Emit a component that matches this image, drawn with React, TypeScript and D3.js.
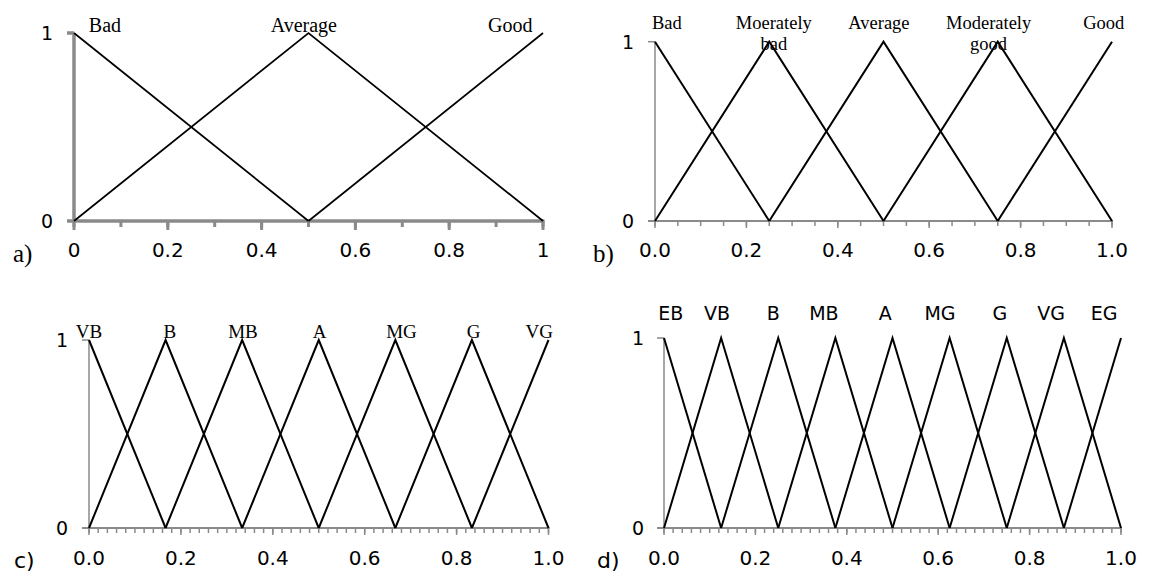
import React from 'react';
import * as d3 from 'd3';

// membership sets for each panel (peak of each triangle)
const aLabels = ['Bad', 'Average', 'Good'];
const aPeaks = [0, 0.5, 1];
const aLabelX = [0.066, 0.49, 0.93];
const aTickLabels = ['0', '0.2', '0.4', '0.6', '0.8', '1'];

const bLabels = ['Bad', 'Moerately\nbad', 'Average', 'Moderately\ngood', 'Good'];
const bPeaks = [0, 0.25, 0.5, 0.75, 1];
const bLabelX = [0.026, 0.26, 0.49, 0.73, 0.982];
const bTickLabels = ['0.0', '0.2', '0.4', '0.6', '0.8', '1.0'];

const cLabels = ['VB', 'B', 'MB', 'A', 'MG', 'G', 'VG'];
const cPeaks = [0, 0.1667, 0.3333, 0.5, 0.6667, 0.8333, 1];
const cLabelX = [0, 0.176, 0.335, 0.502, 0.68, 0.837, 0.98];
const cTickLabels = ['0.0', '0.2', '0.4', '0.6', '0.8', '1.0'];

const dLabels = ['EB', 'VB', 'B', 'MB', 'A', 'MG', 'G', 'VG', 'EG'];
const dPeaks = [0, 0.125, 0.25, 0.375, 0.5, 0.625, 0.75, 0.875, 1];
const dLabelX = [0.015, 0.116, 0.239, 0.35, 0.484, 0.604, 0.735, 0.847, 0.963];
const dTickLabels = ['0.0', '0.2', '0.4', '0.6', '0.8', '1.0'];

const SERIF = '"Liberation Serif", "Times New Roman", serif';
const SANS = '"DejaVu Sans", Verdana, sans-serif';
const GRAY = '#8a8a8a';

interface PanelCfg {
  tag: string;
  tagFont: string;
  tagX: number;
  tagY: number;
  x0: number; x1: number; yTop: number; yBot: number;
  labels: string[]; peaks: number[]; labelX: number[]; tickLabels: string[];
  labelFont: string; labelSize: number; labelY: number;
  minorCount: number;
  heavy: boolean;
  yLabelX: number;
  tickY: number;
  lineW: number;
}

const panels: PanelCfg[] = [
  {
    tag: 'a)', tagFont: SERIF, tagX: 13, tagY: 262,
    x0: 74, x1: 543, yTop: 33, yBot: 221,
    labels: aLabels, peaks: aPeaks, labelX: aLabelX, tickLabels: aTickLabels,
    labelFont: SERIF, labelSize: 20, labelY: 32,
    minorCount: 10, heavy: true, yLabelX: 47, tickY: 257, lineW: 1.7,
  },
  {
    tag: 'b)', tagFont: SERIF, tagX: 593, tagY: 262,
    x0: 655, x1: 1112, yTop: 41.7, yBot: 221,
    labels: bLabels, peaks: bPeaks, labelX: bLabelX, tickLabels: bTickLabels,
    labelFont: SERIF, labelSize: 18.5, labelY: 29,
    minorCount: 20, heavy: false, yLabelX: 628, tickY: 257, lineW: 2,
  },
  {
    tag: 'c)', tagFont: SANS, tagX: 14, tagY: 568,
    x0: 89, x1: 548.5, yTop: 340, yBot: 528,
    labels: cLabels, peaks: cPeaks, labelX: cLabelX, tickLabels: cTickLabels,
    labelFont: SERIF, labelSize: 19, labelY: 338,
    minorCount: 40, heavy: false, yLabelX: 62, tickY: 565, lineW: 2,
  },
  {
    tag: 'd)', tagFont: SANS, tagX: 597, tagY: 568,
    x0: 664, x1: 1121, yTop: 338, yBot: 528,
    labels: dLabels, peaks: dPeaks, labelX: dLabelX, tickLabels: dTickLabels,
    labelFont: SANS, labelSize: 19, labelY: 320,
    minorCount: 40, heavy: false, yLabelX: 638, tickY: 565, lineW: 2,
  },
];

const Panel: React.FC<{ p: PanelCfg }> = ({ p }) => {
  const x = d3.scaleLinear().domain([0, 1]).range([p.x0, p.x1]);
  const y = d3.scaleLinear().domain([0, 1]).range([p.yBot, p.yTop]);
  const half = p.peaks[1] - p.peaks[0];
  const line = d3.line<[number, number]>().x(d => x(d[0])).y(d => y(d[1]));

  // triangles, clipped to the [0, 1] universe
  const tris = p.peaks.map(pk =>
    ([[pk - half, 0], [pk, 1], [pk + half, 0]] as [number, number][])
      .filter(d => d[0] >= -1e-6 && d[0] <= 1 + 1e-6)
  );

  const axisW = p.heavy ? 3.5 : 2;
  const yAxisW = p.heavy ? 3.5 : 1.5;
  const minor = x.ticks(p.minorCount);
  const major = x.ticks(5);

  return (
    <g>
      {/* y axis */}
      <line x1={x(0)} x2={x(0)} y1={y(1)} y2={y(0)} stroke={GRAY} strokeWidth={yAxisW} />
      {[0, 1].map(v => (
        <line key={'yt' + v} x1={x(0) - 7} x2={x(0)} y1={y(v)} y2={y(v)} stroke={GRAY} strokeWidth={v === 0 ? axisW : yAxisW} />
      ))}
      {/* x axis */}
      <line x1={x(0)} x2={x(1) + (p.heavy ? 1.5 : 1)} y1={y(0)} y2={y(0)} stroke={GRAY} strokeWidth={axisW} />
      {minor.map((t, i) => (
        <line key={'mt' + i} x1={x(t)} x2={x(t)} y1={y(0)} y2={y(0) + (p.heavy ? 6 : 5)}
          stroke={GRAY} strokeWidth={p.heavy ? 3 : 1.5} />
      ))}
      {major.map((t, i) => (
        <line key={'Mt' + i} x1={x(t)} x2={x(t)} y1={y(0)} y2={y(0) + (p.heavy ? 9 : 7)}
          stroke={GRAY} strokeWidth={p.heavy ? 3 : 1.5} />
      ))}

      {/* membership functions */}
      {tris.map((t, i) => (
        <path key={'s' + i} d={line(t) || ''} fill="none" stroke="#000" strokeWidth={p.lineW} strokeLinejoin="miter" />
      ))}

      {/* tick labels */}
      {major.map((t, i) => (
        <text key={'tl' + i} x={x(t)} y={p.tickY} textAnchor="middle" fontFamily={SANS} fontSize={20} fill="#000">
          {p.tickLabels[i]}
        </text>
      ))}
      {[1, 0].map(v => (
        <text key={'yl' + v} x={p.yLabelX} y={y(v) + 7} textAnchor="middle" fontFamily={SANS} fontSize={19} fill="#000">
          {v}
        </text>
      ))}

      {/* set names */}
      {p.labels.map((lab, i) => (
        <text key={'lab' + i} x={x(p.labelX[i])} y={p.labelY} textAnchor="middle"
          fontFamily={p.labelFont} fontSize={p.labelSize} fill="#000">
          {lab.split('\n').map((s, j) => (
            <tspan key={j} x={x(p.labelX[i])} dy={j === 0 ? 0 : 21}>{s}</tspan>
          ))}
        </text>
      ))}

      <text x={p.tagX} y={p.tagY} fontFamily={p.tagFont} fontSize={p.tagFont === SERIF ? 25 : 22} fill="#000">
        {p.tag}
      </text>
    </g>
  );
};

export default function App() {
  return (
    <svg width={1152} height={575} style={{ position: 'absolute', left: 0, top: 0, background: '#fff' }}>
      <rect width={1152} height={575} fill="#fff" />
      {panels.map(p => <Panel key={p.tag} p={p} />)}
    </svg>
  );
}
